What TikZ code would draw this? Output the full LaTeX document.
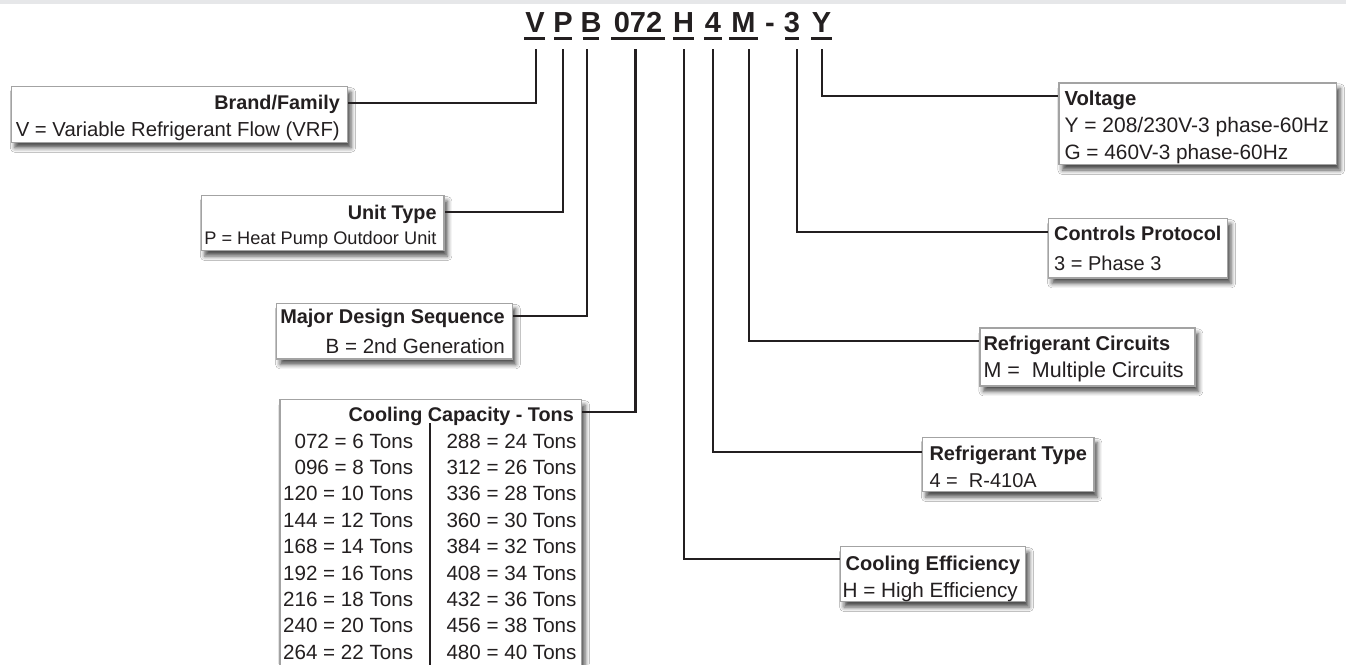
\documentclass[tikz,border=0pt]{standalone}
\usepackage{fontspec}
\setmainfont{Liberation Sans}
\usetikzlibrary{shadows.blur}
\definecolor{ink}{HTML}{231F20}
\definecolor{frame}{HTML}{A3A3A3}
\definecolor{band}{HTML}{E6E7E9}
\tikzset{
  box/.style={draw=frame, line width=1.2pt, fill=white, inner sep=0pt, anchor=north west,
    blur shadow={shadow xshift=3.5pt, shadow yshift=-5.5pt, shadow blur radius=4.5pt, shadow opacity=70}},
  conn/.style={draw=ink, line width=2.2pt},
  uline/.style={draw=ink, line width=2.6pt},
  hd/.style={font=\fontsize{29}{30}\selectfont\bfseries, text=ink, inner sep=0pt, anchor=base},
  ttl/.style={font=\fontsize{#1}{22}\selectfont\bfseries, text=ink, inner sep=0pt},
  ttl/.default=20,
  txt/.style={font=\fontsize{#1}{22}\selectfont, text=ink, inner sep=0pt},
  txt/.default=20,
}
\begin{document}
\begin{tikzpicture}[x=1pt,y=-1pt]
\useasboundingbox (0,0) rectangle (1346,664);
\fill[white] (0,0) rectangle (1346,664);
\fill[band] (0,0) rectangle (1346,3.5);

% header code
\node[hd] (hV) at (535,32) {V};
\node[hd] (hP) at (563,32) {P};
\node[hd] (hB) at (591,32) {B};
\node[hd] (h072) at (638,32) {072};
\node[hd] (hH) at (683.5,32) {H};
\node[hd] (h4) at (713,32) {4};
\node[hd] (hM) at (743.5,32) {M};
\node[hd] (hD) at (770,32) {-};
\node[hd] (h3) at (792,32) {3};
\node[hd] (hY) at (821.5,32) {Y};
\draw[uline] (524,38.5) -- (545,38.5);
\draw[uline] (554,38.5) -- (572,38.5);
\draw[uline] (583,38.5) -- (599,38.5);
\draw[uline] (611,38.5) -- (665,38.5);
\draw[uline] (673,38.5) -- (694,38.5);
\draw[uline] (704,38.5) -- (722,38.5);
\draw[uline] (729,38.5) -- (758,38.5);
\draw[uline] (785,38.5) -- (799,38.5);
\draw[uline] (811,38.5) -- (832,38.5);

\coordinate (cV) at (535.7,49);
\coordinate (cP) at (562.7,49);
\coordinate (cB) at (587.3,49);
\coordinate (c072) at (635.5,49);
\coordinate (cH) at (684,49);
\coordinate (c4) at (713,49);
\coordinate (cM) at (749.3,49);
\coordinate (c3) at (797,49);
\coordinate (cY) at (822,49);

% boxes
\node[box, minimum width=336.3pt, minimum height=55.7pt] (brand) at (10.7,86) {};
\node[ttl=19.8, anchor=base east] (brandT) at (340,109.3) {Brand/Family};
\node[txt=20.3, anchor=base east] (brandL) at (340,136) {V = Variable Refrigerant Flow (VRF)};

\node[box, minimum width=242.6pt, minimum height=55pt] (unit) at (200.7,195) {};
\node[ttl=19.8, anchor=base east] (unitT) at (436.7,219) {Unit Type};
\node[txt=18.2, anchor=base east] (unitL) at (436.7,244.5) {P = Heat Pump Outdoor Unit};

\node[box, minimum width=235.7pt, minimum height=55.6pt] (major) at (276,302.7) {};
\node[ttl=19.9, anchor=base east] (majorT) at (505,323) {Major Design Sequence};
\node[txt=20.6, anchor=base east] (majorL) at (505,353) {B = 2nd Generation};

\node[box, minimum width=301.7pt, minimum height=290pt] (cap) at (279.3,399) {};
\node[ttl=19.8, anchor=base east] (capT) at (574,421.5) {Cooling Capacity - Tons};
\draw[ink, line width=1.3pt] (430,423) -- (430,690);
\foreach \i/\l/\r [count=\k from 0] in {1/072 = 6/288 = 24, 2/096 = 8/312 = 26, 3/120 = 10/336 = 28,
   4/144 = 12/360 = 30, 5/168 = 14/384 = 32, 6/192 = 16/408 = 34, 7/216 = 18/432 = 36,
   8/240 = 20/456 = 38, 9/264 = 22/480 = 40}{
  \node[txt=20.6, anchor=base east] (l\i) at (413.3,448+26.4*\k) {\l{} Tons};
  \node[txt=20.6, anchor=base east] (r\i) at (576.7,448+26.4*\k) {\r{} Tons};
}

\node[box, minimum width=277.7pt, minimum height=81.7pt] (volt) at (1058.3,82.3) {};
\node[ttl=20.3, anchor=base west] (voltT) at (1064.3,105) {Voltage};
\node[txt=21, anchor=base west] (voltL1) at (1064.3,132) {Y = 208/230V-3 phase-60Hz};
\node[txt=20.8, anchor=base west] (voltL2) at (1064.3,159) {G = 460V-3 phase-60Hz};

\node[box, minimum width=179pt, minimum height=59.3pt] (ctrl) at (1048,218) {};
\node[ttl=19.8, anchor=base west] (ctrlT) at (1054,240.5) {Controls Protocol};
\node[txt=20, anchor=base west] (ctrlL) at (1054,270.5) {3 = Phase 3};

\node[box, minimum width=215pt, minimum height=58pt] (rcirc) at (979.3,327.3) {};
\node[ttl=20, anchor=base west] (rcircT) at (983.3,350.5) {Refrigerant Circuits};
\node[txt=21.5, anchor=base west] (rcircL) at (983.3,377.5) {M = \ Multiple Circuits};

\node[box, minimum width=171.6pt, minimum height=54.3pt] (rtype) at (921.7,436.7) {};
\node[ttl=20, anchor=base west] (rtypeT) at (929.3,460.5) {Refrigerant Type};
\node[txt=20, anchor=base west] (rtypeL) at (929.3,487) {4 = \ R-410A};

\node[box, minimum width=185pt, minimum height=55pt] (ceff) at (840,546) {};
\node[ttl=20, anchor=base west] (ceffT) at (845.5,570.5) {Cooling Efficiency};
\node[txt=20.7, anchor=base west] (ceffL) at (842.5,597) {H = High Efficiency};

% connectors
\draw[conn] (cV) |- (brand.east |- 0,103.3);
\draw[conn] (cP) |- (unit.east |- 0,212.3);
\draw[conn] (cB) |- (major.east |- 0,316);
\draw[conn] (c072) |- (cap.east |- 0,412.3);
\draw[conn] (cH) |- (ceff.west |- 0,559.3);
\draw[conn] (c4) |- (rtype.west |- 0,452.3);
\draw[conn] (cM) |- (rcirc.west |- 0,341);
\draw[conn] (c3) |- (ctrl.west |- 0,232.3);
\draw[conn] (cY) |- (volt.west |- 0,96);
\end{tikzpicture}
\end{document}
